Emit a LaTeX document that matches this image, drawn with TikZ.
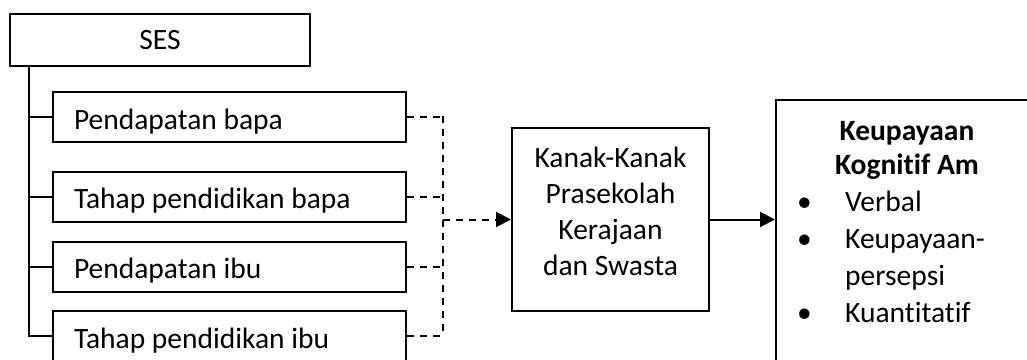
\documentclass[tikz,border=0pt]{standalone}
\usepackage{fontspec}
\setmainfont{Carlito}[Ligatures=NoCommon]
\usetikzlibrary{arrows.meta}

\tikzset{
  box/.style={rectangle, draw, line width=2pt, inner sep=0pt},
  factor/.style={box, minimum width=353pt, text width=311pt, text height=37pt, text depth=13pt, align=flush left},
  link/.style={line width=2pt},
  dashlink/.style={line width=2pt, dash pattern=on 7pt off 6pt}
}

\begin{document}
\begin{tikzpicture}[x=1pt, y=-1pt, font=\fontsize{29.5}{36}\selectfont]
        \clip (0,0) rectangle (1027,359);

        % SES
        \node[box, minimum width=300pt, minimum height=52pt] (ses) at (160,40) {SES};

        % Factors
        \node[factor] (fincome) at (229.5,117) {Pendapatan bapa};
        \node[factor] (fedu) at (229.5,196.5) {Tahap pendidikan bapa};
        \node[factor] (mincome) at (229.5,266.5) {Pendapatan ibu};
        \node[factor] (medu) at (229.5,336) {Tahap pendidikan ibu};

        % Children
        \node[box, minimum width=197pt, minimum height=183pt, align=flush center, text depth=16pt] (children) at (610.5,219.5) {Kanak-Kanak\\Prasekolah\\Kerajaan\\dan Swasta};

        % Cognitive ability
        \node[box, minimum width=270pt, minimum height=280pt, anchor=north west] (ability) at (775,99) {};
        \node[anchor=north, align=flush center, inner sep=0pt, font=\fontsize{29.5}{34}\selectfont\bfseries] (title) at (907,121) {Keupayaan\\Kognitif Am};
        \node[anchor=north west, align=flush left, inner sep=0pt, font=\fontsize{29.5}{37}\selectfont] (skills) at (797,191) {\makebox[48pt][l]{\textbullet}Verbal\\\makebox[48pt][l]{\textbullet}Keupayaan-\\\makebox[48pt][l]{}persepsi\\\makebox[48pt][l]{\textbullet}Kuantitatif};

        % Tree
        \coordinate (trunk) at (29,66);
        \draw[link] (trunk) |- (medu.west);
        \foreach \n in {fincome, fedu, mincome}
            \draw[link] (trunk |- \n.west) -- (\n.west);

        % Dashed links
        \coordinate (bus) at (443,116);
        \foreach \n in {fincome, fedu, mincome, medu}
            \draw[dashlink] (\n.east) -- (\n.east -| bus);
        \draw[dashlink] (bus) -- (bus |- medu.east);

        % Arrows
        \draw[dashlink, -{Triangle[length=15pt, width=15pt]}] (bus |- children.west) -- (children.west);
        \draw[link, -{Triangle[length=15pt, width=15pt]}] (children.east) -- (children.east -| ability.west);
    \end{tikzpicture}
\end{document}
